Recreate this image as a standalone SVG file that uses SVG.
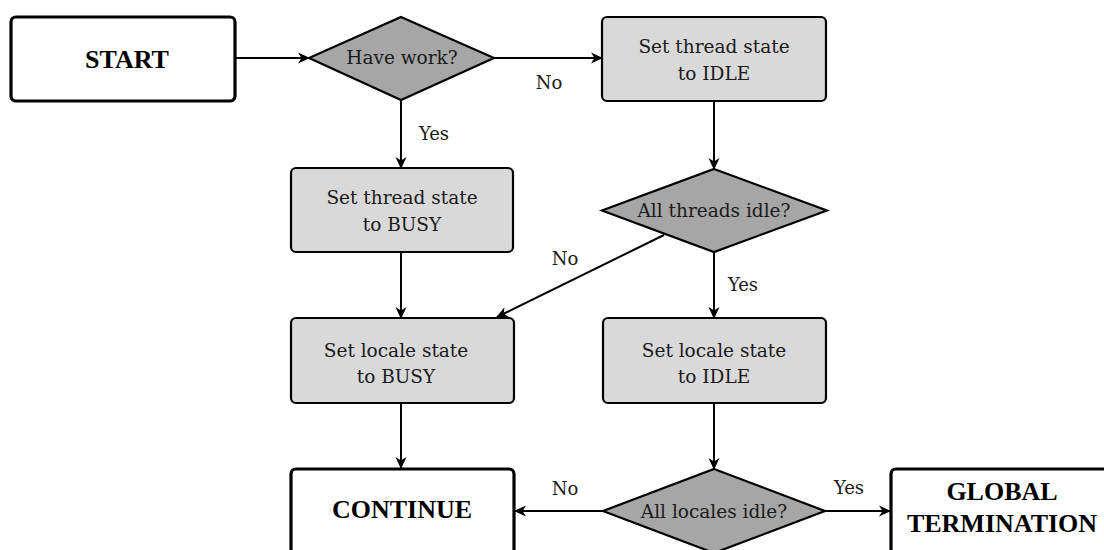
<svg xmlns="http://www.w3.org/2000/svg" width="1104" height="550" viewBox="0 0 1104 550">
  <defs>
    <marker id="arrow" viewBox="0 0 12 12" refX="11" refY="6" markerWidth="12" markerHeight="12" markerUnits="userSpaceOnUse" orient="auto">
      <path d="M0,0.5 L12,6 L0,11.5 L3.5,6 z" fill="#000"/>
    </marker>
    <style>
      .terminal { fill: #ffffff; stroke: #000; stroke-width: 3.2; }
      .process { fill: #d9d9d9; stroke: #000; stroke-width: 2.2; }
      .decision { fill: #a6a6a6; stroke: #000; stroke-width: 2.2; stroke-linejoin: miter; }
      .edge { fill: none; stroke: #000; stroke-width: 2; marker-end: url(#arrow); }
      .txt { font-family: "DejaVu Serif", serif; font-size: 18.5px; fill: #1a1a1a; text-anchor: middle; }
      .lbl { font-family: "DejaVu Serif", serif; font-size: 18px; fill: #1a1a1a; text-anchor: middle; }
      .big { font-family: "Liberation Serif", serif; font-weight: bold; font-size: 26px; fill: #000; text-anchor: middle; }
    </style>
  </defs>
  <rect width="1104" height="550" fill="#ffffff"/>

  <!-- connectors -->
  <g id="connectors">
    <line class="edge" x1="235" y1="58" x2="309" y2="58"/>
    <line class="edge" x1="494" y1="58" x2="602" y2="58"/>
    <line class="edge" x1="401" y1="100" x2="401" y2="168"/>
    <line class="edge" x1="714" y1="101" x2="714" y2="169"/>
    <line class="edge" x1="401" y1="252" x2="401" y2="318"/>
    <line class="edge" x1="664" y1="235" x2="497" y2="317"/>
    <line class="edge" x1="714" y1="252" x2="714" y2="318"/>
    <line class="edge" x1="401" y1="403" x2="401" y2="468"/>
    <line class="edge" x1="714" y1="403" x2="714" y2="469"/>
    <line class="edge" x1="603" y1="511" x2="515" y2="511"/>
    <line class="edge" x1="825" y1="511" x2="890" y2="511"/>
    <text class="lbl" x="549" y="89">No</text>
    <text class="lbl" x="434" y="140">Yes</text>
    <text class="lbl" x="565" y="265">No</text>
    <text class="lbl" x="743" y="291">Yes</text>
    <text class="lbl" x="565" y="495">No</text>
    <text class="lbl" x="849" y="494">Yes</text>
  </g>

  <g id="start">
    <rect class="terminal" x="11" y="17" width="224" height="84" rx="5"/>
    <text class="big" x="127" y="68">START</text>
  </g>

  <g id="have-work">
    <polygon class="decision" points="401,17 494,58 401,100 309,58"/>
    <text class="txt" x="402" y="64">Have work?</text>
  </g>

  <g id="thread-idle">
    <rect class="process" x="602" y="17" width="224" height="84" rx="5"/>
    <text class="txt" x="714" y="53">Set thread state</text>
    <text class="txt" x="714" y="80">to IDLE</text>
  </g>

  <g id="thread-busy">
    <rect class="process" x="291" y="168" width="222" height="84" rx="5"/>
    <text class="txt" x="402" y="204">Set thread state</text>
    <text class="txt" x="402" y="231">to BUSY</text>
  </g>

  <g id="all-threads-idle">
    <polygon class="decision" points="714,169 827,210.5 714,252 602,210.5"/>
    <text class="txt" x="714" y="217">All threads idle?</text>
  </g>

  <g id="locale-busy">
    <rect class="process" x="291" y="318" width="223" height="85" rx="5"/>
    <text class="txt" x="396" y="357">Set locale state</text>
    <text class="txt" x="396" y="383">to BUSY</text>
  </g>

  <g id="locale-idle">
    <rect class="process" x="603" y="318" width="223" height="85" rx="5"/>
    <text class="txt" x="714" y="357">Set locale state</text>
    <text class="txt" x="714" y="383">to IDLE</text>
  </g>

  <g id="continue">
    <rect class="terminal" x="291" y="469" width="223" height="100" rx="5"/>
    <text class="big" x="402" y="518">CONTINUE</text>
  </g>

  <g id="all-locales-idle">
    <polygon class="decision" points="714,469 825,511 714,553 603,511"/>
    <text class="txt" x="714" y="518">All locales idle?</text>
  </g>

  <g id="global-termination">
    <rect class="terminal" x="891" y="469" width="224" height="100" rx="5"/>
    <text class="big" x="1002" y="500">GLOBAL</text>
    <text class="big" x="1002" y="532">TERMINATION</text>
  </g>
</svg>
